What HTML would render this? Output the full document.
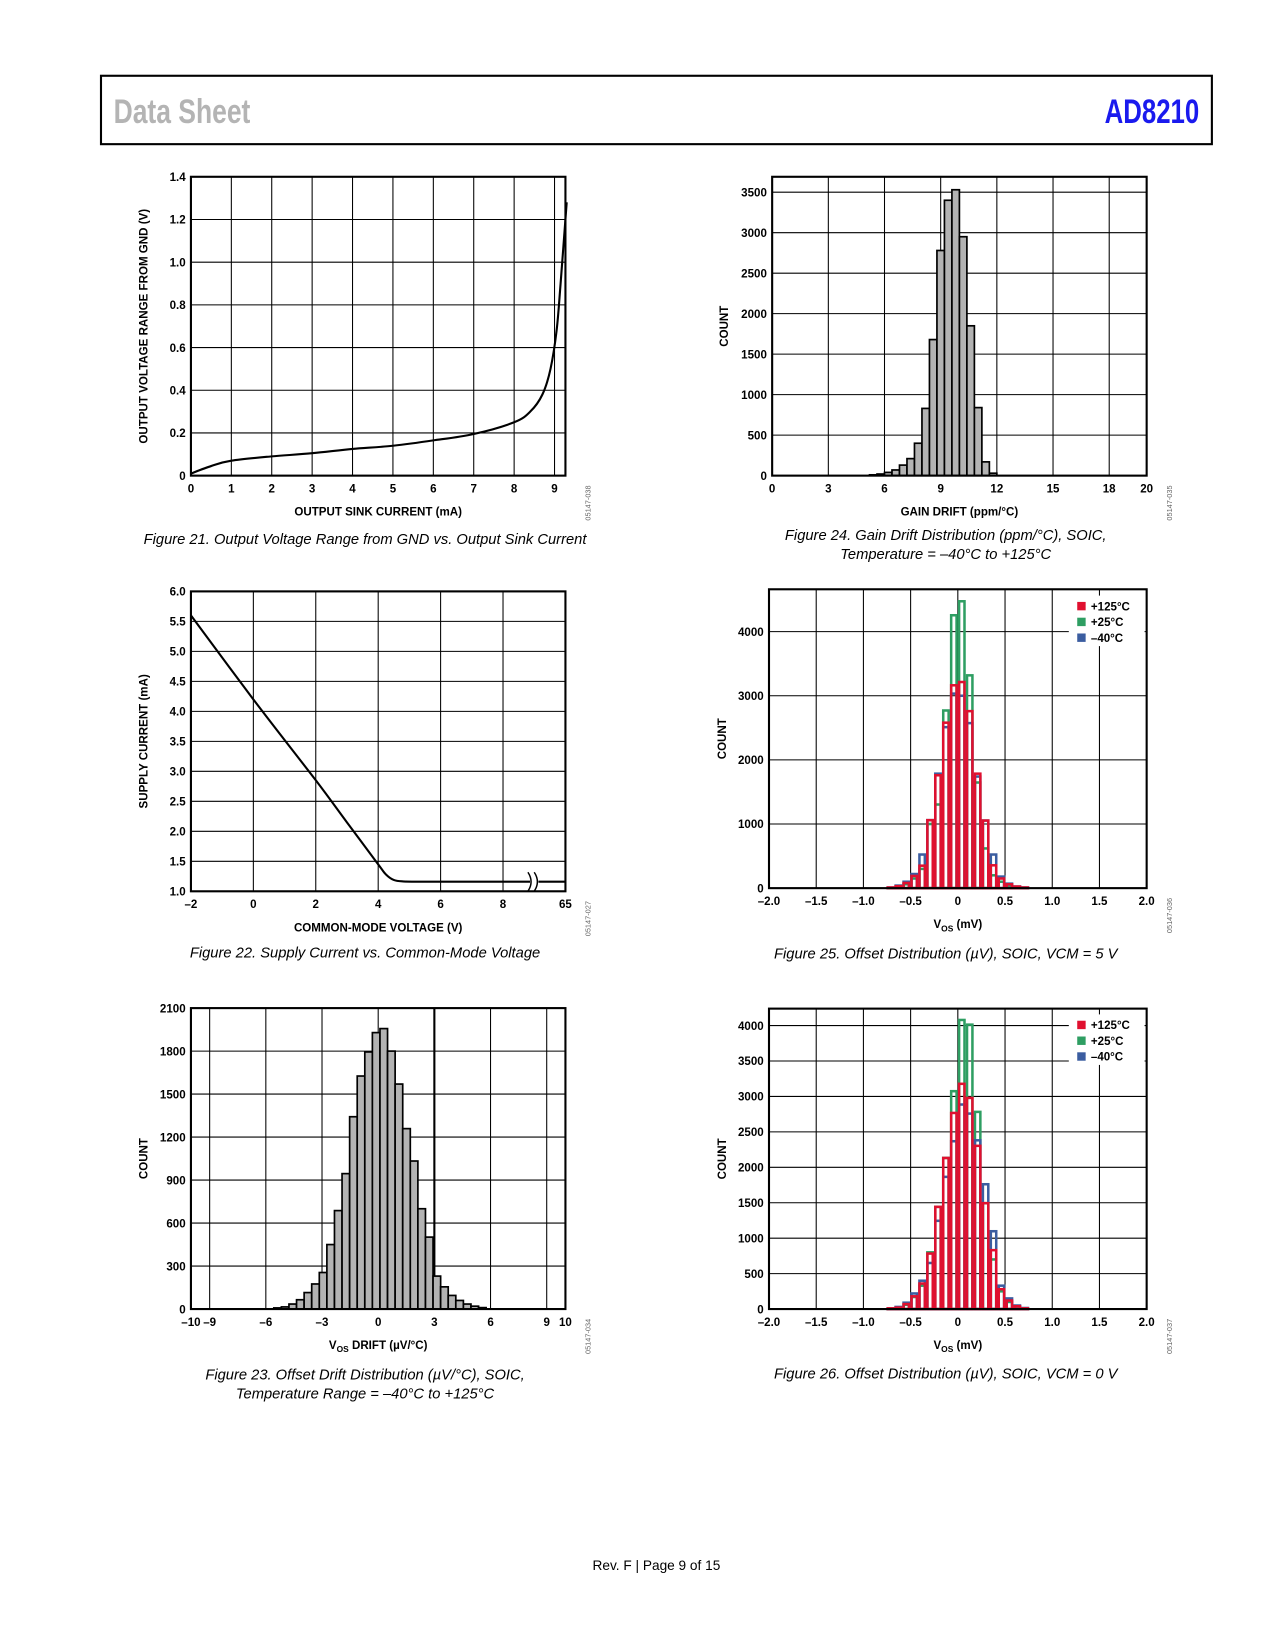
<!DOCTYPE html>
<html><head><meta charset="utf-8"><style>
html,body{margin:0;padding:0;background:#fff;}
svg{display:block;}
text{font-family:"Liberation Sans",sans-serif;}
.tk{font-size:11px;font-weight:bold;}
.al{font-size:11px;font-weight:bold;}
.cap{font-size:14px;font-style:italic;font-family:"Liberation Sans Narrow","Liberation Sans",sans-serif;}
.code{font-size:7px;fill:#666;}
</style></head><body>
<svg id="page" width="1275" height="1650" viewBox="0 0 1212 1568" preserveAspectRatio="none" xmlns="http://www.w3.org/2000/svg">
<rect x="0" y="0" width="1212" height="1568" fill="#fff"/>
<rect x="96" y="72" width="1056" height="65" fill="none" stroke="#000" stroke-width="2"/>
<text x="108" y="117" font-family="Liberation Sans Narrow, Liberation Sans, sans-serif" font-size="33" font-weight="bold" fill="#b4b4b4" textLength="130" lengthAdjust="spacingAndGlyphs">Data Sheet</text>
<text x="1140" y="117" text-anchor="end" font-family="Liberation Sans Narrow, Liberation Sans, sans-serif" font-size="33" font-weight="bold" fill="#1a1aee" textLength="90" lengthAdjust="spacingAndGlyphs">AD8210</text>
<text x="624" y="1492" text-anchor="middle" font-size="13" font-family="Liberation Sans Narrow, Liberation Sans, sans-serif">Rev. F | Page 9 of 15</text>
</svg>
<script>
// ---------- data ----------
const fig21X = [0,0.5,1,2,3,4,5,6,7,8,8.4,8.7,8.9,9.05,9.15,9.3];
const fig21Y = [0.01,0.045,0.07,0.09,0.105,0.125,0.14,0.165,0.195,0.25,0.3,0.38,0.5,0.68,0.9,1.28];
const fig21XTicks = [0,1,2,3,4,5,6,7,8,9];
const fig21YTicks = [0,0.2,0.4,0.6,0.8,1.0,1.2,1.4];

const fig22X = [-2,0,2,3,4,4.25,4.5,4.8,5.5,7,10];
const fig22Y = [5.6,4.2,2.85,2.15,1.45,1.28,1.19,1.165,1.16,1.16,1.16];
const fig22XTicks = [-2,0,2,4,6,8,10];
const fig22XLabels = ["–2","0","2","4","6","8","65"];
const fig22YTicks = [1.0,1.5,2.0,2.5,3.0,3.5,4.0,4.5,5.0,5.5,6.0];

const fig23Start = -5.575;
const fig23Width = 0.405;
const fig23Counts = [8,15,35,65,115,175,255,450,687,945,1342,1626,1794,1929,1957,1800,1570,1259,1033,700,502,230,155,95,60,35,20,10];
const fig23XTicks = [-10,-9,-6,-3,0,3,6,9,10];
const fig23XLabels = ["–10","–9","–6","–3","0","3","6","9","10"];
const fig23YTicks = [0,300,600,900,1200,1500,1800,2100];

const fig24Start = 5.2;
const fig24Width = 0.4;
const fig24Counts = [10,20,40,70,130,210,400,830,1680,2780,3400,3530,2950,1850,840,170,30];
const fig24XTicks = [0,3,6,9,12,15,18,20];
const fig24YTicks = [0,500,1000,1500,2000,2500,3000,3500];

const offBinStart = -9;
const offBinWidth = 0.084;
const fig25Red = [10,30,80,190,350,1060,1760,2580,3163,3214,2760,1785,1054,356,150,60,25,10];
const fig25Green = [5,20,60,150,300,1000,1304,2770,4255,4473,3318,1647,619,200,100,40,15,5];
const fig25Blue = [10,40,100,220,524,1060,1785,2510,3033,3000,2573,1740,1054,524,180,70,25,10];
const fig25YTicks = [0,1000,2000,3000,4000];

const fig26Red = [10,20,70,180,360,783,1442,2132,2767,3178,2979,2303,1494,831,280,120,40,10];
const fig26Green = [5,20,60,170,330,800,1442,2132,3074,4079,4013,2782,1494,700,250,100,30,5];
const fig26Blue = [10,30,90,220,400,650,1245,1865,2368,2886,2758,2381,1761,1098,330,150,50,15];
const fig26YTicks = [0,500,1000,1500,2000,2500,3000,3500,4000];

const offXTicks = [-2,-1.5,-1,-0.5,0,0.5,1,1.5,2];
const offXLabels = ["–2.0","–1.5","–1.0","–0.5","0","0.5","1.0","1.5","2.0"];
const legendLabels = ["+125°C","+25°C","–40°C"];
const legendColors = ["#e0102f","#2e9e62","#3b5da0"];

// ---------- helpers ----------
const NS = "http://www.w3.org/2000/svg";
const page = document.getElementById('page');
function mk(tag, attrs, parent){
  const e = document.createElementNS(NS, tag);
  for (const k in attrs) e.setAttribute(k, attrs[k]);
  (parent||page).appendChild(e);
  return e;
}
function fmt(v){ return String(v).replace('-', '–'); }

function makeChart(c){
  const g = mk('g', {});
  
  
  c.sx = v => c.x0 + (v - c.xmin) / (c.xmax - c.xmin) * (c.x1 - c.x0);
  c.sy = v => c.y1 - (v - c.ymin) / (c.ymax - c.ymin) * (c.y1 - c.y0);
  c.g = g;
  c.yTicks.forEach((t, i) => {
    const y = c.sy(t);
    const l = mk('line', {x1:c.x0, x2:c.x1, y1:y, y2:y, stroke:'#000', 'stroke-width':1}, g);
    
    
    const tx = mk('text', {x:c.x0-5, y:y+4, 'text-anchor':'end', class:'tk'}, g);
    tx.textContent = c.yLabels ? c.yLabels[i] : (c.yFmt ? c.yFmt(t) : fmt(t));
    
    
  });
  (c.vGrid || c.xTicks).forEach(t => {
    const x = c.sx(t);
    const l = mk('line', {x1:x, x2:x, y1:c.y0, y2:c.y1, stroke:'#000', 'stroke-width': (c.thickAt===t?2:1)}, g);
    
    
  });
  c.xTicks.forEach((t, i) => {
    const x = c.sx(t);
    const tx = mk('text', {x:x, y:c.y1+16, 'text-anchor':'middle', class:'tk'}, g);
    tx.textContent = c.xLabels ? c.xLabels[i] : fmt(t);
    
    
  });
  const xt = mk('text', {x:(c.x0+c.x1)/2, y:c.y1+38, 'text-anchor':'middle', class:'al'}, g);
  xt.innerHTML = c.xTitle;
  
  
  const yc = (c.y0+c.y1)/2;
  const yt = mk('text', {x:c.yTitleX, y:yc, 'text-anchor':'middle', class:'al', transform:`rotate(-90 ${c.yTitleX} ${yc})`}, g);
  yt.textContent = c.yTitle;
  
  
  const cx = c.x1 + 24, cy = c.y1 + 26;
  const cd = mk('text', {x:cx, y:cy, 'text-anchor':'middle', class:'code', transform:`rotate(-90 ${cx} ${cy})`}, g);
  cd.textContent = c.code;
  
  
  c.caption.forEach((line, i) => {
    const t = mk('text', {x:c.capX, y:c.capY + i*18, 'text-anchor':'middle', class:'cap'}, page);
    t.textContent = line;
    
    
  });
  return c;
}
function frame(c){
  const f = mk('rect', {x:c.x0, y:c.y0, width:c.x1-c.x0, height:c.y1-c.y0, fill:'none', stroke:'#000', 'stroke-width':2}, c.g);
  
  
}
function smoothPath(c, xs, ys){
  const P = xs.map((x, i) => [c.sx(x), c.sy(ys[i])]);
  let d = 'M' + P[0][0].toFixed(1) + ' ' + P[0][1].toFixed(1);
  for (let i = 0; i < P.length - 1; i++){
    const p0 = P[Math.max(0, i-1)], p1 = P[i], p2 = P[i+1], p3 = P[Math.min(P.length-1, i+2)];
    const c1 = [p1[0] + (p2[0]-p0[0])/6, p1[1] + (p2[1]-p0[1])/6];
    const c2 = [p2[0] - (p3[0]-p1[0])/6, p2[1] - (p3[1]-p1[1])/6];
    d += ` C${c1[0].toFixed(1)} ${c1[1].toFixed(1)} ${c2[0].toFixed(1)} ${c2[1].toFixed(1)} ${p2[0].toFixed(1)} ${p2[1].toFixed(1)}`;
  }
  return d;
}
function grayHist(c, start, w, counts){
  counts.forEach((v, i) => {
    const xa = c.sx(start + i*w), xb = c.sx(start + (i+1)*w);
    const r = mk('rect', {x:xa, y:c.sy(v), width:xb-xa, height:c.y1-c.sy(v), fill:'#b3b3b3', stroke:'#000', 'stroke-width':1.6}, c.g);
    
    
  });
}
function outlineHist(c, counts, color, name, inset){
  counts.forEach((v, i) => {
    const xa = c.sx((offBinStart + i)*offBinWidth) + inset, xb = c.sx((offBinStart + i + 1)*offBinWidth) - inset;
    const r = mk('rect', {x:xa, y:c.sy(v), width:xb-xa, height:c.y1-c.sy(v), fill:'none', stroke:color, 'stroke-width':2.4}, c.g);
    
    
  });
}
function legend(c, x, y){
  const bg = mk('rect', {x:x-8, y:y-10, width:c.x1-x+6, height:48, fill:'#fff'}, c.g);
  
  
  legendLabels.forEach((lab, i) => {
    const s = mk('rect', {x:x, y:y-4+i*15, width:8, height:8, fill:legendColors[i]}, c.g);
    
    
    const t = mk('text', {x:x+13, y:y+4+i*15, class:'tk'}, c.g);
    t.textContent = lab;
    
    
  });
}

// ---------- Figure 21 ----------
const c21 = makeChart({name:'figure-21-chart', x0:181.5, x1:537.5, y0:168, y1:452, xmin:0, xmax:9.27, ymin:0, ymax:1.4,
  xTicks:fig21XTicks, vGrid:fig21XTicks.concat([9.27]), yTicks:fig21YTicks, yFmt:v=>v===0?'0':v.toFixed(1),
  xTitle:'OUTPUT SINK CURRENT (mA)', yTitle:'OUTPUT VOLTAGE RANGE FROM GND (V)', yTitleX:140, code:'05147-038',
  caption:['Figure 21. Output Voltage Range from GND vs. Output Sink Current'], capX:347, capY:517});
const p21 = mk('path', {d:smoothPath(c21, fig21X, fig21Y), fill:'none', stroke:'#000', 'stroke-width':2}, c21.g);


frame(c21);

// ---------- Figure 22 ----------
const c22 = makeChart({name:'figure-22-chart', x0:181.5, x1:537.5, y0:562, y1:847, xmin:-2, xmax:10, ymin:1, ymax:6,
  xTicks:fig22XTicks, xLabels:fig22XLabels, yTicks:fig22YTicks, yFmt:v=>v.toFixed(1),
  xTitle:'COMMON-MODE VOLTAGE (V)', yTitle:'SUPPLY CURRENT (mA)', yTitleX:140, code:'05147-027',
  caption:['Figure 22. Supply Current vs. Common-Mode Voltage'], capX:347, capY:910});
const p22 = mk('path', {d:smoothPath(c22, fig22X, fig22Y), fill:'none', stroke:'#000', 'stroke-width':2}, c22.g);


{
  const bx = c22.sx(9.0), by = c22.sy(1.16);
  const w = mk('rect', {x:bx-4, y:by-9, width:8, height:18, fill:'#fff'}, c22.g);
  
  
  const br = mk('path', {d:`M${bx-6} ${by-9} Q${bx} ${by} ${bx-6} ${by+9} M${bx} ${by-9} Q${bx+6} ${by} ${bx} ${by+9}`, fill:'none', stroke:'#000', 'stroke-width':1.4}, c22.g);
  
  
}
frame(c22);

// ---------- Figure 23 ----------
const c23 = makeChart({name:'figure-23-chart', x0:181.5, x1:537.5, y0:958, y1:1244, xmin:-10, xmax:10, ymin:0, ymax:2100,
  xTicks:fig23XTicks, xLabels:fig23XLabels, yTicks:fig23YTicks, thickAt:3,
  xTitle:'V<tspan font-size="8" dy="3">OS</tspan><tspan dy="-3"> DRIFT (µV/°C)</tspan>', yTitle:'COUNT', yTitleX:140, code:'05147-034',
  caption:['Figure 23. Offset Drift Distribution (µV/°C), SOIC,','Temperature Range = –40°C to +125°C'], capX:347, capY:1311});
grayHist(c23, fig23Start, fig23Width, fig23Counts);
frame(c23);

// ---------- Figure 24 ----------
const c24 = makeChart({name:'figure-24-chart', x0:734, x1:1090, y0:168, y1:452, xmin:0, xmax:20, ymin:0, ymax:3690,
  xTicks:fig24XTicks, yTicks:fig24YTicks,
  xTitle:'GAIN DRIFT (ppm/°C)', yTitle:'COUNT', yTitleX:692, code:'05147-035',
  caption:['Figure 24. Gain Drift Distribution (ppm/°C), SOIC,','Temperature = –40°C to +125°C'], capX:899, capY:513});
grayHist(c24, fig24Start, fig24Width, fig24Counts);
frame(c24);

// ---------- Figure 25 ----------
const c25 = makeChart({name:'figure-25-chart', x0:731, x1:1090, y0:560, y1:844, xmin:-2, xmax:2, ymin:0, ymax:4660,
  xTicks:offXTicks, xLabels:offXLabels, yTicks:fig25YTicks,
  xTitle:'V<tspan font-size="8" dy="3">OS</tspan><tspan dy="-3"> (mV)</tspan>', yTitle:'COUNT', yTitleX:690, code:'05147-036',
  caption:['Figure 25. Offset Distribution (µV), SOIC, VCM = 5 V'], capX:899, capY:911});
outlineHist(c25, fig25Green, legendColors[1], 'bar-plus25c', 1.2);
outlineHist(c25, fig25Blue, legendColors[2], 'bar-minus40c', 1.2);
outlineHist(c25, fig25Red, legendColors[0], 'bar-plus125c', 1.2);
legend(c25, 1024, 576);
frame(c25);

// ---------- Figure 26 ----------
const c26 = makeChart({name:'figure-26-chart', x0:731, x1:1090, y0:958.5, y1:1244, xmin:-2, xmax:2, ymin:0, ymax:4239,
  xTicks:offXTicks, xLabels:offXLabels, yTicks:fig26YTicks,
  xTitle:'V<tspan font-size="8" dy="3">OS</tspan><tspan dy="-3"> (mV)</tspan>', yTitle:'COUNT', yTitleX:690, code:'05147-037',
  caption:['Figure 26. Offset Distribution (µV), SOIC, VCM = 0 V'], capX:899, capY:1310});
outlineHist(c26, fig26Green, legendColors[1], 'bar-plus25c', 1.2);
outlineHist(c26, fig26Blue, legendColors[2], 'bar-minus40c', 1.2);
outlineHist(c26, fig26Red, legendColors[0], 'bar-plus125c', 1.2);
legend(c26, 1024, 974);
frame(c26);
</script>
</body></html>
